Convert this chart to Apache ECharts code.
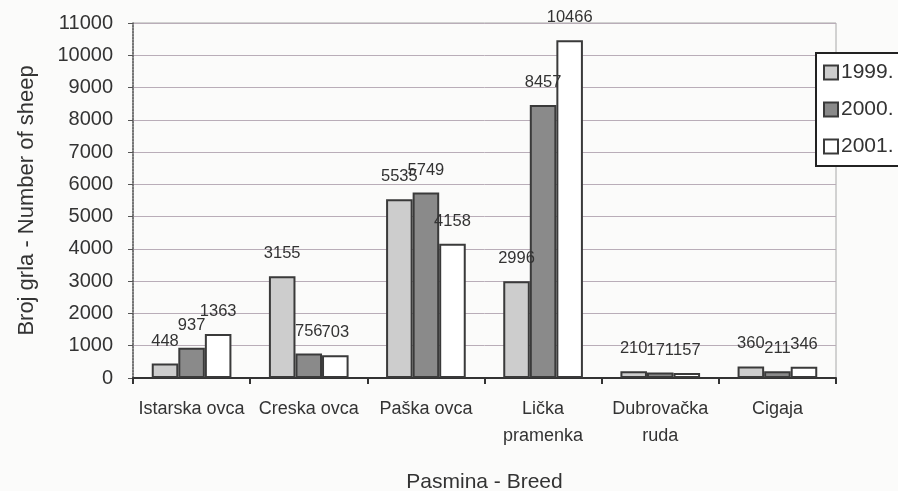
<!DOCTYPE html>
<html>
<head>
<meta charset="utf-8">
<title>Broj grla - Number of sheep</title>
<script src="https://cdn.jsdelivr.net/npm/echarts@6/dist/echarts.min.js"></script>
<style>
  html, body { margin: 0; padding: 0; background: #fbfbfa; }
  #chart { width: 898px; height: 491px; }
</style>
</head>
<body>
<div id="chart"></div>
<script>
// breeds
const categories = [
  "Istarska ovca",
  "Creska ovca",
  "Paška ovca",
  "Lička\npramenka",
  "Dubrovačka\nruda",
  "Cigaja"
];
const years = ["1999.", "2000.", "2001."];
const values1999 = [448, 3155, 5535, 2996, 210, 360];
const values2000 = [937, 756, 5749, 8457, 171, 211];
const values2001 = [1363, 703, 4158, 10466, 157, 346];

const fontFamily = "'Liberation Sans', Arial, sans-serif";
const fills = ["#cdcdcd", "#8a8a8a", "#ffffff"];

function makeSeries(name, data, fill) {
  return {
    name: name,
    type: "bar",
    data: data,
    barGap: "0%",
    barCategoryGap: "32%",
    itemStyle: {
      color: fill,
      borderColor: "#3a3a3a",
      borderWidth: 2
    },
    label: {
      show: true,
      position: "top",
      distance: 14,
      color: "#333",
      fontFamily: fontFamily,
      fontSize: 16.5
    },
    animation: false
  };
}

const chart = echarts.init(document.getElementById("chart"));
chart.setOption({
  backgroundColor: "#fbfbfa",
  textStyle: { fontFamily: fontFamily },
  grid: {
    left: 133,
    right: 62,
    top: 23,
    bottom: 113,
    containLabel: false,
    outerBoundsMode: "none",
    show: true,
    borderColor: "#a8a8a8",
    borderWidth: 1
  },
  legend: {
    data: years,
    orient: "vertical",
    left: 816,
    top: 53,
    padding: [9, 20, 9, 7],
    itemWidth: 14,
    itemHeight: 14,
    itemGap: 16,
    backgroundColor: "#ffffff",
    borderColor: "#222",
    borderWidth: 2,
    icon: "rect",
    textStyle: {
      color: "#333",
      fontSize: 21,
      fontFamily: fontFamily,
      padding: [0, 0, 0, -2]
    }
  },
  xAxis: {
    type: "category",
    data: categories,
    name: "Pasmina - Breed",
    nameLocation: "middle",
    nameGap: 94,
    nameTextStyle: { color: "#333", fontSize: 21, fontFamily: fontFamily },
    axisLine: { lineStyle: { color: "#333", width: 2 } },
    axisTick: { show: true, length: 6, lineStyle: { color: "#333", width: 2 } },
    axisLabel: {
      interval: 0,
      color: "#333",
      fontSize: 18,
      fontFamily: fontFamily,
      margin: 18,
      lineHeight: 27
    },
    splitLine: { show: false }
  },
  yAxis: {
    type: "value",
    min: 0,
    max: 11000,
    interval: 1000,
    name: "Broj grla - Number of sheep",
    nameLocation: "middle",
    nameGap: 95,
    nameTextStyle: { color: "#333", fontSize: 22, fontFamily: fontFamily },
    axisLine: { show: true, lineStyle: { color: "#555", width: 1.5, type: "dotted" } },
    axisTick: { show: true, length: 5, lineStyle: { color: "#555" } },
    axisLabel: {
      color: "#333",
      fontSize: 20,
      fontFamily: fontFamily,
      margin: 20,
      formatter: function (val) {
        return String(val);
      }
    },
    splitLine: { lineStyle: { color: "#b9adb8", width: 1 } }
  },
  series: [
    makeSeries(years[0], values1999, fills[0]),
    makeSeries(years[1], values2000, fills[1]),
    makeSeries(years[2], values2001, fills[2])
  ]
});
</script>
</body>
</html>
